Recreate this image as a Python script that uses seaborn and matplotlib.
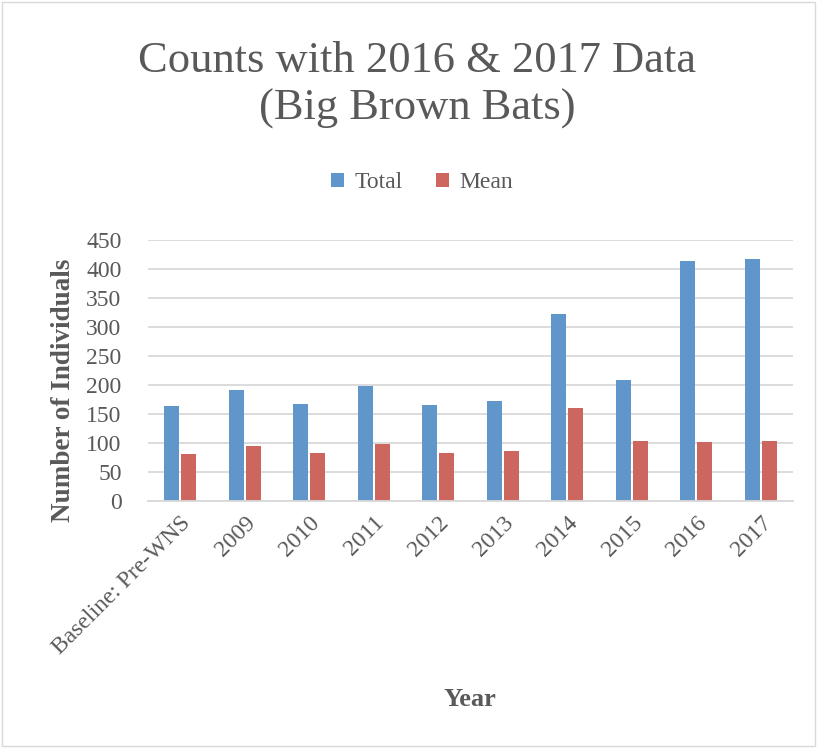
import matplotlib
matplotlib.use("Agg")
import matplotlib.pyplot as plt
import seaborn as sns
import pandas as pd
from matplotlib.patches import Rectangle

categories = ["Baseline: Pre-WNS", "2009", "2010", "2011", "2012", "2013",
              "2014", "2015", "2016", "2017"]
total = [164, 191, 168, 198, 165, 173, 322, 208, 414, 418]
mean = [81, 95, 83, 99, 82, 86, 160, 104, 102, 104]
series_names = ["Total", "Mean"]
colors = ["#6096CA", "#CD665F"]

df = pd.DataFrame({
    "Year": categories * 2,
    "Value": total + mean,
    "Series": [series_names[0]] * len(categories) + [series_names[1]] * len(categories),
})

sns.set_style("white")
plt.rcParams["font.family"] = ["Liberation Serif", "DejaVu Serif"]
text_color = "#595959"

fig = plt.figure(figsize=(8.17, 7.48), dpi=100)
ax = fig.add_axes([148 / 817, 1 - 501 / 748, (793 - 148) / 817, (501 - 240) / 748])

sns.barplot(data=df, x="Year", y="Value", hue="Series", palette=colors,
            width=0.52, gap=0.12, ax=ax, legend=True, saturation=1,
            edgecolor="none")

ax.set_ylim(0, 450)
ax.set_xlim(-0.5, len(categories) - 0.5)
ax.set_yticks(range(0, 451, 50))
ax.yaxis.grid(True, color="#D9D9D9", linewidth=1.3)
ax.set_axisbelow(True)
for s in ["top", "right", "left"]:
    ax.spines[s].set_visible(False)
ax.spines["bottom"].set_color("#D9D9D9")
ax.spines["bottom"].set_linewidth(1.3)
ax.tick_params(axis="both", length=0, colors=text_color, labelsize=17)
ax.tick_params(axis="y", pad=19)
ax.set_xticks(range(len(categories)))
ax.set_xticklabels(categories, rotation=45, ha="right", rotation_mode="anchor")
ax.tick_params(axis="x", pad=8)

ax.set_ylabel("")
ax.set_xlabel("")
fig.text(64 / 817, 1 - 390 / 748, "Number of Individuals", ha="center", va="center",
         rotation=90, fontsize=19.5, fontweight="bold", color=text_color)
fig.text(470 / 817, 1 - 700 / 748, "Year", ha="center", va="center",
         fontsize=19, fontweight="bold", color=text_color)

fig.text(417 / 817, 1 - 85 / 748, "Counts with 2016 & 2017 Data\n(Big Brown Bats)",
         ha="center", va="center", fontsize=32, color=text_color, linespacing=1.22)

leg = ax.legend(loc="center", bbox_to_anchor=(422 / 817, 1 - 183 / 748),
                bbox_transform=fig.transFigure, ncol=2, frameon=False,
                fontsize=17, handlelength=0.55, handleheight=0.55,
                handletextpad=0.45, columnspacing=1.4)
for t in leg.get_texts():
    t.set_color(text_color)

fig.add_artist(Rectangle((0.003, 0.003), 0.994, 0.994, transform=fig.transFigure,
                         fill=False, edgecolor="#D9D9D9", linewidth=1))

fig.savefig("out.png", dpi=100, facecolor="white")
